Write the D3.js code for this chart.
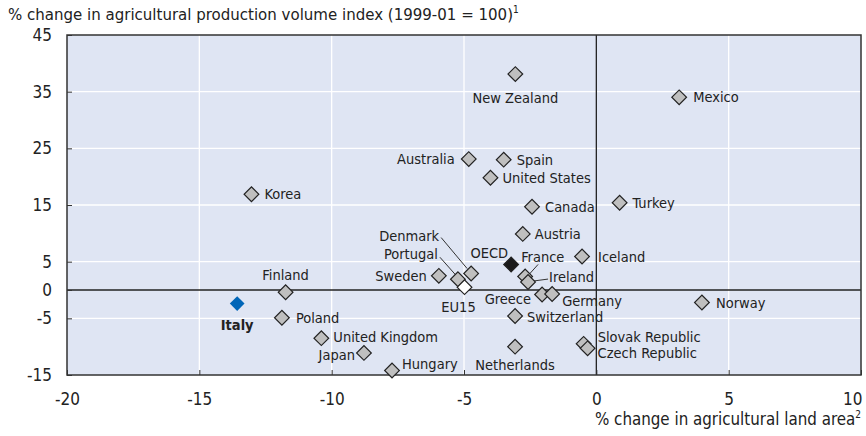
<!DOCTYPE html>
<html>
<head>
<meta charset="utf-8">
<script src="https://d3js.org/d3.v7.min.js"></script>
<style>
  body { margin: 0; background: #fff; }
  svg text { font-family: "DejaVu Sans Condensed", "Liberation Sans Narrow", sans-serif; fill: #222; }
</style>
</head>
<body>
<div id="chart"></div>
<script>
// data
var countries = ["New Zealand", "Mexico", "Australia", "Spain", "United States", "Canada", "Turkey",
  "Korea", "Austria", "Iceland", "OECD", "France", "Ireland", "Denmark", "Portugal", "Sweden", "EU15",
  "Greece", "Germany", "Switzerland", "Norway", "Finland", "Italy", "Poland", "United Kingdom",
  "Japan", "Hungary", "Netherlands", "Slovak Republic", "Czech Republic"]
var landChange = [-3.06, 3.13, -4.82, -3.5, -4.0, -2.43, 0.88,
  -13.03, -2.78, -0.54, -3.22, -2.69, -2.58, -4.73, -5.23, -5.95, -4.98,
  -2.05, -1.67, -3.07, 3.99, -11.74, -13.57, -11.88, -10.39,
  -8.78, -7.72, -3.07, -0.48, -0.33]
var prodChange = [38.1, 34.0, 23.1, 23.0, 19.8, 14.7, 15.4,
  16.9, 9.9, 5.9, 4.5, 2.4, 1.4, 2.9, 1.9, 2.5, 0.5,
  -0.8, -0.7, -4.6, -2.2, -0.4, -2.4, -4.9, -8.5,
  -11.1, -14.2, -10.0, -9.5, -10.3]
var xTicks = [-20, -15, -10, -5, 0, 5, 10]
var yTicks = [45, 35, 25, 15, 5, 0, -5, -15]

// label placement: [anchor, dx, dy]
var labelPos = {
  "New Zealand": ["middle", 0, 24], "Mexico": ["start", 14, 0], "Australia": ["end", -14, 0],
  "Spain": ["start", 13, 0], "United States": ["start", 12, 0], "Canada": ["start", 13, 0],
  "Turkey": ["start", 13, 0], "Korea": ["start", 13, 0], "Austria": ["start", 12, 0],
  "Iceland": ["start", 16, 0], "OECD": ["end", -3, -12], "France": ["start", -4, -19],
  "Ireland": ["start", 21, -5], "Denmark": ["end", -32, -38], "Portugal": ["end", -20, -25],
  "Sweden": ["end", -12, 0], "EU15": ["middle", -6, 20], "Greece": ["end", -11, 4],
  "Germany": ["start", 10, 7], "Switzerland": ["start", 12, 1], "Norway": ["start", 14, 0],
  "Finland": ["middle", 0, -17], "Italy": ["middle", 0, 21], "Poland": ["start", 14, 0],
  "United Kingdom": ["start", 12, -1], "Japan": ["end", -9, 2], "Hungary": ["start", 10, -7],
  "Netherlands": ["middle", 0, 18], "Slovak Republic": ["start", 14, -7], "Czech Republic": ["start", 10, 5]
}
// leader lines: [x1, y1] offset from mark, [x2, y2] offset from mark
var leaders = {
  "Denmark": [-30, -36, -4, -5], "Portugal": [-18, -22, -2, -4],
  "France": [13, -12, 4, -2], "Ireland": [20, -3, 5, -1]
}

var W = 866, H = 436
var margin = { top: 35, right: 5, bottom: 61, left: 67 }
var width = W - margin.left - margin.right
var height = H - margin.top - margin.bottom

var svg = d3.select("#chart").append("svg")
  .attr("width", W).attr("height", H)

var g = svg.append("g").attr("transform", "translate(" + margin.left + "," + margin.top + ")")

var x = d3.scaleLinear().domain([-20, 10]).range([0, width])
var y = d3.scaleLinear().domain([-15, 45]).range([height, 0])

// background
g.append("rect").attr("width", width).attr("height", height).attr("fill", "#dfe5f3")

// grid
g.selectAll(".vgrid").data(xTicks.filter(d => d > -20 && d < 10 && d != 0)).enter()
  .append("line").attr("x1", d => x(d)).attr("x2", d => x(d)).attr("y1", 0).attr("y2", height)
  .attr("stroke", "#fff").attr("stroke-width", 1.3)
g.selectAll(".hgrid").data(yTicks.filter(d => d > -15 && d < 45 && d != 0)).enter()
  .append("line").attr("y1", d => y(d)).attr("y2", d => y(d)).attr("x1", 0).attr("x2", width)
  .attr("stroke", "#fff").attr("stroke-width", 1.3)

// zero lines
g.append("line").attr("x1", x(0)).attr("x2", x(0)).attr("y1", 0).attr("y2", height)
  .attr("stroke", "#222").attr("stroke-width", 1.3)
g.append("line").attr("y1", y(0)).attr("y2", y(0)).attr("x1", 0).attr("x2", width)
  .attr("stroke", "#222").attr("stroke-width", 1.3)

// axes with inward ticks
var xAxis = g.append("g").attr("transform", "translate(0," + height + ")")
  .call(d3.axisBottom(x).tickValues(xTicks).tickSize(-5).tickPadding(18).tickFormat(d => String(d)))
var yAxis = g.append("g")
  .call(d3.axisLeft(y).tickValues(yTicks).tickSize(-5).tickPadding(15).tickFormat(d => String(d)))
;[xAxis, yAxis].forEach(function(a) {
  a.select(".domain").remove()
  a.selectAll(".tick line").attr("stroke", "#333")
  a.selectAll("text").attr("font-size", 17).attr("fill", "#222")
    .style("font-family", '"DejaVu Sans Condensed", sans-serif')
})
// last x label sits inside the window
xAxis.selectAll(".tick text").filter(d => d == 10).attr("text-anchor", "end").attr("x", 1)

// frame
g.append("rect").attr("width", width).attr("height", height)
  .attr("fill", "none").attr("stroke", "#333").attr("stroke-width", 1.5)

var data = countries.map(function(c, i) { return { name: c, x: landChange[i], y: prodChange[i] } })

// leaders
g.selectAll(".leader").data(data.filter(d => leaders[d.name])).enter()
  .append("line")
  .attr("x1", d => x(d.x) + leaders[d.name][0]).attr("y1", d => y(d.y) + leaders[d.name][1])
  .attr("x2", d => x(d.x) + leaders[d.name][2]).attr("y2", d => y(d.y) + leaders[d.name][3])
  .attr("stroke", "#333").attr("stroke-width", 1)

// marks
var diamond = d3.symbol().type(d3.symbolSquare).size(108)
g.selectAll(".mark").data(data).enter()
  .append("path")
  .attr("d", diamond)
  .attr("transform", d => "translate(" + x(d.x) + "," + y(d.y) + ") rotate(45)")
  .attr("fill", function(d) {
    if (d.name == "Italy") return "#0066b8"
    if (d.name == "OECD") return "#1a1a1a"
    if (d.name == "EU15") return "#ffffff"
    return "#bfbfbf"
  })
  .attr("stroke", d => d.name == "Italy" ? "none" : "#222")
  .attr("stroke-width", 1.2)

// labels
g.selectAll(".label").data(data).enter()
  .append("text")
  .attr("x", d => x(d.x) + labelPos[d.name][1])
  .attr("y", d => y(d.y) + labelPos[d.name][2])
  .attr("dy", "0.35em")
  .attr("text-anchor", d => labelPos[d.name][0])
  .attr("font-size", 14.5)
  .attr("font-weight", d => d.name == "Italy" ? "bold" : "normal")
  .text(d => d.name)

// titles
var t = svg.append("text").attr("x", 8).attr("y", 20).attr("font-size", 16.7)
t.append("tspan").text("% change in agricultural production volume index (1999-01 = 100)")
t.append("tspan").attr("font-size", 10).attr("dy", -7).text("1")

var xt = svg.append("text").attr("x", W - 5).attr("y", 425).attr("text-anchor", "end").attr("font-size", 16.8)
xt.append("tspan").text("% change in agricultural land area")
xt.append("tspan").attr("font-size", 10).attr("dy", -7).text("2")
</script>
</body>
</html>
